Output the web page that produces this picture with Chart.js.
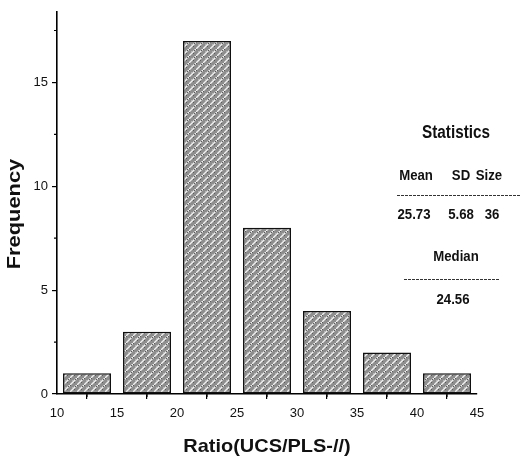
<!DOCTYPE html>
<html>
<head>
<meta charset="utf-8">
<script src="https://cdn.jsdelivr.net/npm/chart.js@4/dist/chart.umd.min.js"></script>
<style>
  body { margin: 0; background: #fff; }
  #wrap { width: 520px; height: 461px; position: relative; }
</style>
</head>
<body>
<div id="wrap"><canvas id="histChart"></canvas></div>
<script>
// histogram bins (centre of each 5-wide bin) and counts
var binCenters = [12.5, 17.5, 22.5, 27.5, 32.5, 37.5, 42.5];
var frequencies = [1, 3, 17, 8, 4, 2, 1];
var xTicks = [10, 15, 20, 25, 30, 35, 40, 45];
var yTicks = [0, 5, 10, 15];

// summary table on the right
var statHeaders = ['Mean', 'SD', 'Size'];
var statValues = ['25.73', '5.68', '36'];
var medianValue = '24.56';

var FONT = '"Liberation Sans", Arial, sans-serif';

// hatched grey fill for the bars
function makeHatch() {
    var c = document.createElement('canvas');
    c.width = 7; c.height = 7;
    var g = c.getContext('2d');
    g.fillStyle = '#8e8e8e';
    g.fillRect(0, 0, 7, 7);
    g.strokeStyle = '#f0f0f0';
    g.lineWidth = 1.4;
    g.beginPath();
    g.moveTo(-1, 8); g.lineTo(8, -1);
    g.stroke();
    g.fillStyle = '#5a5a5a';
    g.fillRect(0, 0, 1, 1);
    g.fillRect(4, 4, 1, 1);
    g.fillRect(5, 1, 1, 1);
    g.fillStyle = '#b4b4b4';
    g.fillRect(2, 2, 1, 1);
    return g.createPattern(c, 'repeat');
}

// condensed bold text (narrow face drawn by squeezing the regular one)
function narrowText(ctx, text, x, y, size, squeeze, rotate) {
    ctx.save();
    ctx.translate(x, y);
    if (rotate) ctx.rotate(-Math.PI / 2);
    ctx.scale(squeeze, 1);
    ctx.font = 'bold ' + size + 'px ' + FONT;
    ctx.textAlign = 'center';
    ctx.textBaseline = 'middle';
    ctx.fillText(text, 0, 0);
    ctx.restore();
}

// short minor ticks half-way between the labelled ones
var minorTicks = {
    id: 'minorTicks',
    afterDraw: function (chart) {
        var ctx = chart.ctx, xs = chart.scales.x, ys = chart.scales.y;
        ctx.save();
        ctx.strokeStyle = '#000';
        ctx.lineWidth = 1.2;
        ctx.beginPath();
        for (var i = 0; i < xTicks.length - 1; i++) {
            var px = xs.getPixelForValue(xTicks[i] + 2.5);
            ctx.moveTo(px, ys.bottom);
            ctx.lineTo(px, ys.bottom + 3);
        }
        for (var j = 0; j < yTicks.length; j++) {
            var py = ys.getPixelForValue(yTicks[j] + 2.5);
            ctx.moveTo(xs.left, py);
            ctx.lineTo(xs.left - 3, py);
        }
        ctx.stroke();
        ctx.restore();
    }
};

// axis titles and the statistics block
var labels = {
    id: 'labels',
    afterDraw: function (chart) {
        var ctx = chart.ctx;
        ctx.save();
        ctx.fillStyle = '#111';
        narrowText(ctx, 'Frequency', 15, 214, 19, 1.15, true);
        narrowText(ctx, 'Ratio(UCS/PLS-//)', 267, 447, 19, 1.05, false);

        narrowText(ctx, 'Statistics', 456, 133, 18, 0.85);
        var cols = [416, 461, 489];
        var valCols = [414, 461, 492];
        for (var i = 0; i < statHeaders.length; i++) {
            narrowText(ctx, statHeaders[i], cols[i], 176, 15, 0.88);
            narrowText(ctx, statValues[i], valCols[i], 215, 15, 0.88);
        }
        narrowText(ctx, 'Median', 456, 257, 15, 0.88);
        narrowText(ctx, medianValue, 453, 300, 15, 0.88);

        ctx.strokeStyle = '#333';
        ctx.lineWidth = 1;
        ctx.setLineDash([3, 1]);
        ctx.beginPath();
        ctx.moveTo(397, 195.5); ctx.lineTo(520, 195.5);
        ctx.moveTo(404, 279.5); ctx.lineTo(500, 279.5);
        ctx.stroke();
        ctx.restore();
    }
};

var ctx = document.getElementById('histChart').getContext('2d');
var chart = new Chart(ctx, {
    type: 'bar',
    data: {
        datasets: [{
            data: binCenters.map(function (x, i) { return { x: x, y: frequencies[i] }; }),
            backgroundColor: makeHatch(),
            borderColor: '#111',
            borderWidth: 1.6,
            borderSkipped: false,
            categoryPercentage: 1,
            barPercentage: 0.8
        }]
    },
    options: {
        responsive: true,
        maintainAspectRatio: false,
        animation: false,
        layout: { padding: { left: 0, right: 43, top: 8, bottom: 0 } },
        plugins: { legend: { display: false }, tooltip: { enabled: false } },
        scales: {
            x: {
                type: 'linear',
                min: 10, max: 45,
                offset: false,
                afterFit: function (s) { s.height = 67; },
                ticks: { stepSize: 5, color: '#111', padding: 7, font: { family: FONT, size: 13 } },
                grid: { drawOnChartArea: false, tickLength: 5, color: '#000', lineWidth: 1.2 },
                border: { color: '#000', width: 1.6 }
            },
            y: {
                min: 0, max: 18.4,
                afterFit: function (s) { s.width = 57; },
                ticks: { stepSize: 5, includeBounds: false, color: '#111', padding: 4,
                         font: { family: FONT, size: 13 } },
                grid: { drawOnChartArea: false, tickLength: 5, color: '#000', lineWidth: 1.2 },
                border: { color: '#000', width: 1.6 }
            }
        }
    },
    plugins: [minorTicks, labels]
});
</script>
</body>
</html>
